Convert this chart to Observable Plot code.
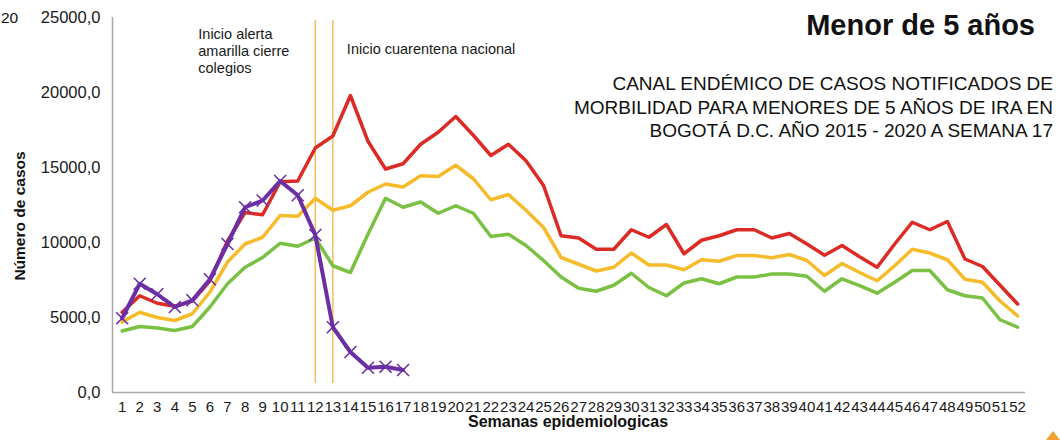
<!DOCTYPE html>
<html>
<head>
<meta charset="utf-8">
<script src="https://cdn.jsdelivr.net/npm/d3@7"></script>
<script src="https://cdn.jsdelivr.net/npm/@observablehq/plot@0.6"></script>
<style>
  body { margin: 0; background: #fff; }
  #wrap { position: relative; width: 1060px; height: 440px; overflow: hidden; background: #fff; }
  #wrap svg { display: block; }
</style>
</head>
<body>
<div id="wrap"></div>
<script>
// ---- Data ----
const weeks = [1,2,3,4,5,6,7,8,9,10,11,12,13,14,15,16,17,18,19,20,21,22,23,24,25,26,
  27,28,29,30,31,32,33,34,35,36,37,38,39,40,41,42,43,44,45,46,47,48,49,50,51,52];

// Upper band (red)
const redValues = [5350,6450,5950,5750,6100,7450,10100,12000,11850,14050,14100,16300,17100,19800,
  16750,14900,15250,16550,17350,18400,17150,15800,16550,15450,13800,10450,10300,9550,9550,10850,
  10350,11200,9250,10150,10450,10850,10850,10300,10600,9900,9150,9800,9050,8350,9900,11350,10850,
  11400,8900,8400,7150,5900];

// Middle band (yellow)
const yellowValues = [4700,5350,5000,4800,5250,6700,8700,9900,10350,11800,11750,12950,12150,12450,
  13350,13900,13700,14450,14400,15150,14250,12850,13200,12150,11000,9000,8550,8100,8350,9300,
  8500,8500,8180,8850,8750,9130,9130,8980,9200,8800,7800,8600,8000,7450,8450,9550,9300,8850,
  7550,7350,6100,5100];

// Lower band (green)
const greenValues = [4100,4400,4300,4130,4400,5700,7250,8350,9000,9950,9750,10300,8450,8000,
  10550,12950,12350,12700,11950,12450,11950,10400,10550,9800,8800,7700,6950,6750,7150,7950,
  7000,6450,7300,7580,7250,7700,7700,7900,7900,7750,6750,7580,7130,6620,7350,8130,8130,6850,
  6450,6300,4850,4350];

// 2020 observed cases (purple), weeks 1-17
const observed2020 = [4950,7250,6550,5700,6150,7550,9900,12350,12800,14100,13150,10500,4350,2700,1650,1720,1500];

const yTicks = [0,5000,10000,15000,20000,25000];

const eventWeeks = [12,13];
const eventLabels = ["Inicio alerta\namarilla cierre\ncolegios", "Inicio cuarentena nacional"];

const titleText = "Menor de 5 años";
const subtitleLines = [
  "CANAL ENDÉMICO DE CASOS NOTIFICADOS DE",
  "MORBILIDAD PARA MENORES DE 5 AÑOS DE IRA EN",
  "BOGOTÁ D.C. AÑO 2015 - 2020 A SEMANA 17"
];
const yAxisTitle = "Número de casos";
const xAxisTitle = "Semanas epidemiologicas";
const cornerFragment = "20";

// ---- Build tables ----
const rows = (vals) => vals.map((v, i) => ({week: weeks[i], value: v}));
const redRows = rows(redValues);
const yellowRows = rows(yellowValues);
const greenRows = rows(greenValues);
const obsRows = rows(observed2020);
const events = eventWeeks.map((w, i) => ({week: w, label: eventLabels[i]}));

const FONT = "'Liberation Sans', Arial, Helvetica, sans-serif";
const fmt = v => d3.format(".1f")(v).replace(".", ",");
const xDomain = [0.45, 52.45];

const chart = Plot.plot({
  width: 1060,
  height: 440,
  marginLeft: 112,
  marginRight: 35,
  marginTop: 17,
  marginBottom: 48,
  style: {fontFamily: FONT, background: "#fff", color: "#1a1a1a", overflow: "visible"},
  x: {domain: xDomain},
  y: {domain: [0, 25000]},
  marks: [
    Plot.axisY({ticks: yTicks, tickFormat: fmt, tickSize: 0, tickPadding: 12, fontSize: 16.5, label: null, fill: "#1a1a1a"}),
    Plot.axisX({ticks: weeks, tickFormat: d => String(d), tickSize: 0, tickPadding: 9, fontSize: 15, label: null, fill: "#1a1a1a"}),
    Plot.ruleX([xDomain[0]], {stroke: "#a8a8a8", strokeWidth: 1.5}),
    Plot.ruleY([0], {stroke: "#a8a8a8", strokeWidth: 1.5}),
    Plot.ruleX(events, {x: "week", y1: 600, y2: 24800, stroke: "#efbf5f", strokeWidth: 1.5}),
    Plot.text(events.slice(0, 1), {x: "week", text: "label", frameAnchor: "top", textAnchor: "start",
      lineAnchor: "top", dx: -117, dy: 9, fontSize: 14.5, lineHeight: 1.18, fill: "#1a1a1a"}),
    Plot.text(events.slice(1), {x: "week", text: "label", frameAnchor: "top", textAnchor: "start",
      lineAnchor: "top", dx: 14, dy: 26, fontSize: 14.5, fill: "#1a1a1a"}),
    Plot.line(greenRows, {x: "week", y: "value", stroke: "#7ac143", strokeWidth: 3.5}),
    Plot.line(yellowRows, {x: "week", y: "value", stroke: "#f6bb2b", strokeWidth: 3.5}),
    Plot.line(redRows, {x: "week", y: "value", stroke: "#dc2a24", strokeWidth: 3.5}),
    Plot.line(obsRows, {x: "week", y: "value", stroke: "#6b2fa5", strokeWidth: 4}),
    Plot.dot(obsRows, {x: "week", y: "value", symbol: "times", r: 5.5, stroke: "#6b2fa5", strokeWidth: 1.6})
  ]
});

document.getElementById("wrap").appendChild(chart);

// ---- Non-data texts ----
const svg = d3.select(chart);
const g = svg.append("g").attr("font-family", FONT).attr("fill", "#111").attr("text-anchor", "start");

g.append("text").attr("x", 1035).attr("y", 35).attr("text-anchor", "end")
  .attr("font-size", 29).attr("font-weight", "bold").text(titleText);

subtitleLines.forEach((s, i) => {
  g.append("text").attr("x", 1053).attr("y", 90 + i * 23.5).attr("text-anchor", "end")
    .attr("font-size", 19).text(s);
});

g.append("text").attr("transform", "translate(25,216) rotate(-90)").attr("text-anchor", "middle")
  .attr("font-size", 15.5).attr("font-weight", "bold").text(yAxisTitle);

g.append("text").attr("x", 568).attr("y", 427).attr("text-anchor", "middle")
  .attr("font-size", 16).attr("font-weight", "bold").text(xAxisTitle);

// small fragment at top-left
g.append("text").attr("x", 1).attr("y", 23).attr("text-anchor", "start").attr("font-size", 15.5).text(cornerFragment);

// small orange triangle at bottom-right corner
g.append("path").attr("d", "M1046,440 L1053,431 L1060,440 Z").attr("fill", "#f0a030");
</script>
</body>
</html>
